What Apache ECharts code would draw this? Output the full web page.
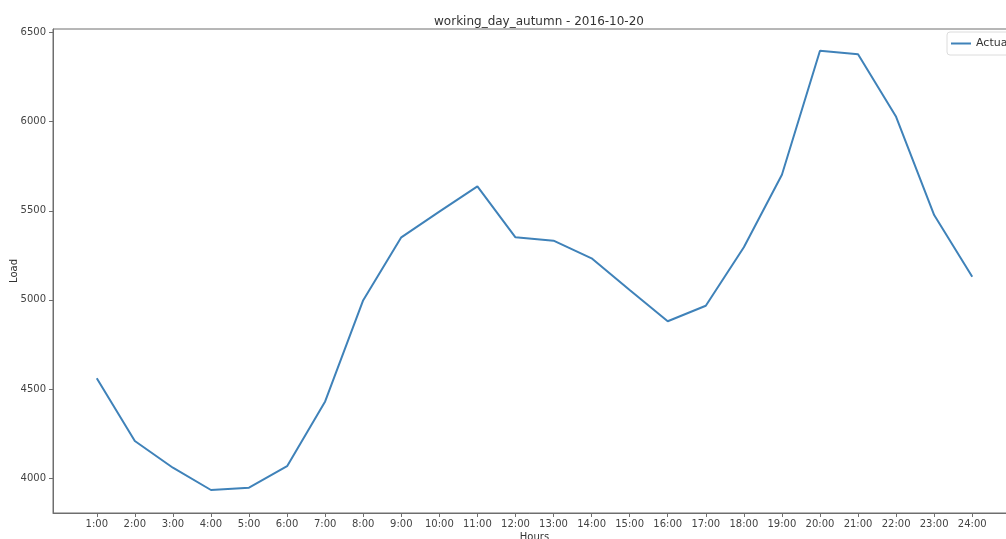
<!DOCTYPE html>
<html>
<head>
<meta charset="utf-8">
<script src="https://cdn.jsdelivr.net/npm/echarts@6/dist/echarts.min.js"></script>
<style>
  html, body { margin: 0; padding: 0; background: #fff; }
  #chart { width: 1006px; height: 539px; }
</style>
</head>
<body>
<div id="chart"></div>
<script>
// Hourly load profile for one autumn working day
const hourLabels = ['1:00','2:00','3:00','4:00','5:00','6:00','7:00','8:00','9:00','10:00','11:00','12:00',
                    '13:00','14:00','15:00','16:00','17:00','18:00','19:00','20:00','21:00','22:00','23:00','24:00'];
const actualLoad = [4560, 4208, 4058, 3933, 3946, 4067, 4430, 4998, 5351, 5495, 5637, 5351,
                    5332, 5233, 5055, 4880, 4967, 5295, 5702, 6398, 6378, 6027, 5476, 5130];
const yTicks = [4000, 4500, 5000, 5500, 6000, 6500];

const tickPositions = hourLabels.map((_, i) => i + 1);
const seriesData = actualLoad.map((v, i) => [i + 1, v]);

const font = 'DejaVu Sans';
const spine = '#6e6e6e';
const textColor = '#444';

const chart = echarts.init(document.getElementById('chart'), null, { renderer: 'canvas' });
chart.setOption({
  backgroundColor: '#fff',
  animation: false,
  title: {
    text: 'working_day_autumn - 2016-10-20',
    left: 534, top: 11, textAlign: 'center',
    textStyle: { fontFamily: font, fontSize: 12, fontWeight: 'normal', color: '#333' }
  },
  legend: {
    left: 947, top: 32,
    data: ['Actual'],
    icon: 'rect', itemWidth: 20, itemHeight: 2, itemGap: 6,
    padding: [6, 8, 6, 4],
    borderColor: '#dcdcdc', borderWidth: 1, borderRadius: 3,
    textStyle: { fontFamily: font, fontSize: 11, color: '#333' }
  },
  grid: {
    left: 53, top: 29, width: 963, height: 484,
    containLabel: false, outerBoundsMode: 'none',
    show: true, borderColor: spine, borderWidth: 1, backgroundColor: 'transparent'
  },
  xAxis: {
    type: 'value',
    min: -0.15, max: 25.15,
    name: 'Hours', nameLocation: 'middle', nameGap: 19, nameMoveOverlap: false,
    nameTextStyle: { fontFamily: font, fontSize: 10, color: '#333' },
    axisLine: { show: true, onZero: false, lineStyle: { color: spine, width: 1 } },
    axisTick: { show: true, length: 4, customValues: tickPositions, lineStyle: { color: spine } },
    axisLabel: {
      customValues: tickPositions,
      formatter: v => hourLabels[Math.round(v) - 1] || '',
      fontFamily: font, fontSize: 10, color: textColor, margin: 6
    },
    splitLine: { show: false }
  },
  yAxis: {
    type: 'value',
    min: 3804, max: 6520,
    name: 'Load', nameLocation: 'middle', nameGap: 34, nameRotate: 90, nameMoveOverlap: false,
    nameTextStyle: { fontFamily: font, fontSize: 10, color: '#333' },
    axisLine: { show: true, onZero: false, lineStyle: { color: spine, width: 1 } },
    axisTick: { show: true, length: 4, customValues: yTicks, lineStyle: { color: spine } },
    axisLabel: {
      customValues: yTicks,
      formatter: v => String(v),
      fontFamily: font, fontSize: 10, color: textColor, margin: 7
    },
    splitLine: { show: false }
  },
  series: [{
    name: 'Actual',
    type: 'line',
    data: seriesData,
    showSymbol: false,
    symbol: 'none',
    lineStyle: { color: '#3f82b9', width: 2 },
    itemStyle: { color: '#3f82b9' }
  }]
});
</script>
</body>
</html>
